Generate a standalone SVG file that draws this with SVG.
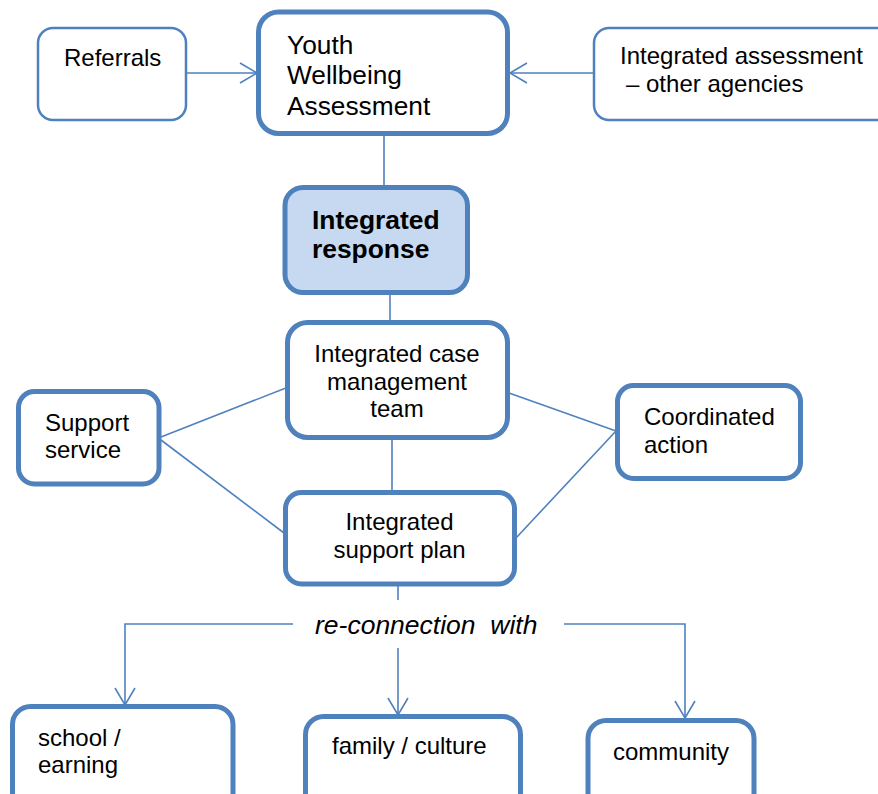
<svg xmlns="http://www.w3.org/2000/svg" width="878" height="794" viewBox="0 0 878 794">
<defs>
<style>
.box{fill:#fff;stroke:#4f81bd;stroke-width:5}
.thin{fill:#fff;stroke:#4f81bd;stroke-width:2.5}
.hl{fill:#c6d9f1;stroke:#4f81bd;stroke-width:5}
.c{fill:none;stroke:#4f81bd;stroke-width:1.6}
text{font-family:"Liberation Sans",Arial,sans-serif;font-size:24px;fill:#000}
.big{font-size:26.3px}
.bold{font-size:26.4px;font-weight:bold}
.it{font-size:26.5px;font-style:italic}
.mid{text-anchor:middle}
</style>
<marker id="arr" markerUnits="userSpaceOnUse" markerWidth="24" markerHeight="24" viewBox="-18 -12 20 24" refX="0" refY="0" orient="auto">
<path d="M-17,-10 L0,0 L-17,10" fill="none" stroke="#4f81bd" stroke-width="1.6"/>
</marker>
</defs>
<g id="connectors">
<line class="c" x1="187" y1="73" x2="257" y2="73" marker-end="url(#arr)"/>
<line class="c" x1="593" y1="73" x2="510" y2="73" marker-end="url(#arr)"/>
<line class="c" x1="384" y1="135" x2="384" y2="186"/>
<line class="c" x1="390" y1="294" x2="390" y2="321"/>
<line class="c" x1="392" y1="439" x2="392" y2="491"/>
<line class="c" x1="161" y1="437" x2="291" y2="386"/>
<line class="c" x1="161" y1="440" x2="284" y2="533"/>
<line class="c" x1="509" y1="393" x2="616" y2="431"/>
<line class="c" x1="516" y1="538" x2="616" y2="431"/>
<line class="c" x1="398" y1="586" x2="398" y2="600"/>
<polyline class="c" points="293,624 125,624 125,705" marker-end="url(#arr)"/>
<line class="c" x1="398" y1="648" x2="398" y2="715" marker-end="url(#arr)"/>
<polyline class="c" points="564,624 685,624 685,718" marker-end="url(#arr)"/>
</g>
<g id="referrals">
<rect class="thin" x="38" y="28" width="148" height="92" rx="15"/>
<text x="64" y="66">Referrals</text>
</g>
<g id="youth-wellbeing">
<rect class="box" x="258.5" y="12" width="249" height="121.5" rx="20"/>
<text class="big" x="287" y="53.5">Youth</text>
<text class="big" x="287" y="84">Wellbeing</text>
<text class="big" x="287" y="114.5">Assessment</text>
</g>
<g id="integrated-assessment">
<rect class="thin" x="594" y="28" width="300" height="92" rx="15"/>
<text x="620" y="64">Integrated assessment</text>
<text x="626" y="92">– other agencies</text>
</g>
<g id="integrated-response">
<rect class="hl" x="285" y="187.5" width="182.5" height="105" rx="18"/>
<text class="bold" x="312" y="229">Integrated</text>
<text class="bold" x="312" y="258">response</text>
</g>
<g id="case-management">
<rect class="box" x="287.5" y="322.5" width="220" height="115" rx="20"/>
<text class="mid" x="397" y="362">Integrated case</text>
<text class="mid" x="397" y="390">management</text>
<text class="mid" x="397" y="417">team</text>
</g>
<g id="support-service">
<rect class="box" x="18.5" y="391.5" width="140.5" height="92.5" rx="16"/>
<text x="45" y="431">Support</text>
<text x="45" y="458">service</text>
</g>
<g id="support-plan">
<rect class="box" x="285.5" y="492.5" width="229" height="91.5" rx="16"/>
<text class="mid" x="399.5" y="530">Integrated</text>
<text class="mid" x="399.5" y="558">support plan</text>
</g>
<g id="coordinated-action">
<rect class="box" x="617.5" y="385.5" width="183" height="93" rx="16"/>
<text x="644" y="425">Coordinated</text>
<text x="644" y="453">action</text>
</g>
<g id="reconnection">
<text class="it" x="315" y="634" xml:space="preserve">re-connection  with</text>
</g>
<g id="school">
<rect class="box" x="12.5" y="706.5" width="220.5" height="110" rx="18"/>
<text x="38" y="746">school /</text>
<text x="38" y="773">earning</text>
</g>
<g id="family">
<rect class="box" x="305.5" y="716.5" width="215" height="110" rx="18"/>
<text x="332" y="754">family / culture</text>
</g>
<g id="community">
<rect class="box" x="588" y="720.5" width="166" height="110" rx="18"/>
<text x="613" y="760">community</text>
</g>
</svg>
